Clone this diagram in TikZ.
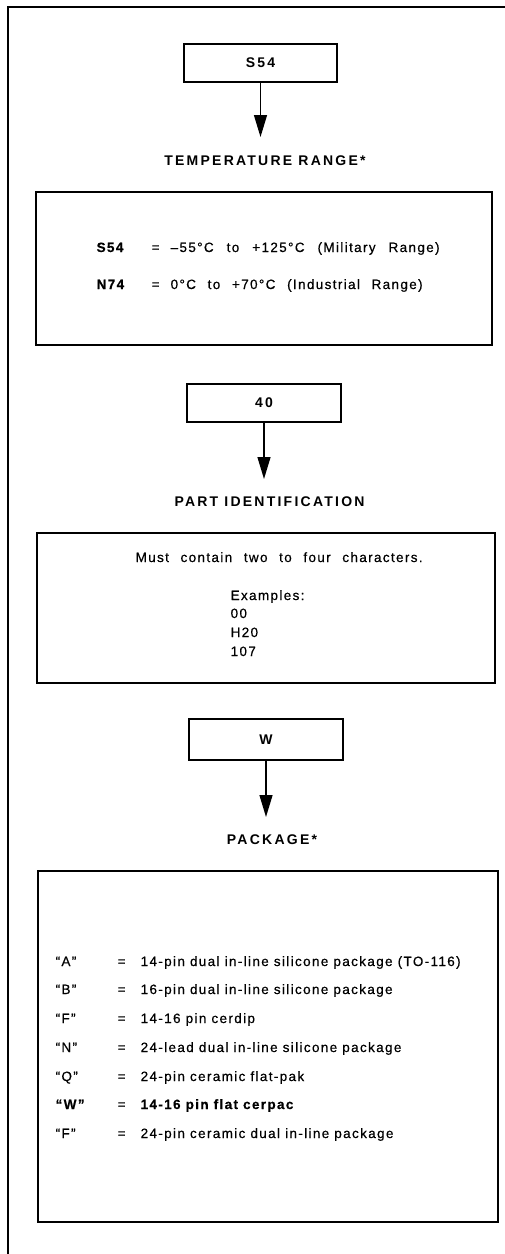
\documentclass[tikz,border=0pt]{standalone}
\usepackage{fontspec}
\setmainfont{Liberation Sans}[LetterSpace=10, FakeBold=0.5]
\newfontfamily\headfont{Liberation Sans}[LetterSpace=16]
\usepackage{tikz}
\usetikzlibrary{arrows.meta}
\newcommand{\spread}[2]{\makebox[#1][s]{#2}}

\begin{document}
\begin{tikzpicture}[x=1pt, y=-1pt, line width=1.3pt,
  font=\fontsize{13.5}{16}\selectfont,
  codebox/.style={draw, minimum width=154pt, minimum height=38pt, font=\fontsize{14}{16}\selectfont\headfont\bfseries},
  panel/.style={draw},
  head/.style={font=\fontsize{14}{16}\selectfont\headfont\bfseries, inner sep=0pt},
  row/.style={anchor=base west, inner sep=0pt},
  arr/.style={-{Triangle[length=22pt, width=13pt]}}]
  \useasboundingbox (0,0) rectangle (505,1254);
  % frame
  \draw (505,7) -- (8,7) -- (8,1254);
  % temperature range
  \node[codebox, minimum width=153pt] (s54) at (260.5,63) {S54};
  \coordinate (s54tip) at (s54.south |- 0,137);
  \draw[arr] (s54) -- (s54tip);
  \node[head] (temphead) at (265,161) {TEMPERATURE RANGE*};
  \node[panel, minimum width=456pt, minimum height=153pt] (tempbox) at (264,268.5) {};
  \foreach \y/\code/\desc/\w [count=\i] in {252/S54/{–55°C to +125°C (Military Range)}/269pt,
                                            289/N74/{0°C to +70°C (Industrial Range)}/252pt}{
    \node[row] (tempcode\i) at (96,\y) {\bfseries\code};
    \node[row] (tempeq\i) at (151,\y) {=};
    \node[row] (tempdesc\i) at (170,\y) {\spread{\w}{\desc}};
  }
  % part identification
  \node[codebox] (partno) at (264,403) {40};
  \coordinate (parttip) at (partno.south |- 0,479);
  \draw[arr] (partno) -- (parttip);
  \node[head] (parthead) at (269.5,502) {PART IDENTIFICATION};
  \node[panel, minimum width=458pt, minimum height=150pt] (partbox) at (266,608) {};
  \node[row] (partrule) at (135,562) {\spread{287pt}{Must contain two to four characters.}};
  \foreach \y/\t [count=\i] in {600/Examples:, 618/00, 637/H20, 656/107}
    \node[row] (partex\i) at (230,\y) {\t};
  % package
  \node[codebox, minimum height=41pt] (pkgno) at (266,739.5) {W};
  \coordinate (pkgtip) at (pkgno.south |- 0,817);
  \draw[arr] (pkgno) -- (pkgtip);
  \node[head] (pkghead) at (272,840) {PACKAGE*};
  \node[panel, minimum width=460pt, minimum height=351pt] (pkgbox) at (268,1046.5) {};
  \foreach \y/\code/\desc/\wt [count=\i] in {
      966/A/{14-pin dual in-line silicone package (TO-116)}/\mdseries,
      994/B/{16-pin dual in-line silicone package}/\mdseries,
      1023/F/{14-16 pin cerdip}/\mdseries,
      1052/N/{24-lead dual in-line silicone package}/\mdseries,
      1081/Q/{24-pin ceramic flat-pak}/\mdseries,
      1109/W/{14-16 pin flat cerpac}/\bfseries,
      1138/F/{24-pin ceramic dual in-line package}/\mdseries}{
    \node[row] (pkgcode\i) at (55,\y) {\wt “\code”};
    \node[row] (pkgeq\i) at (117,\y) {=};
    \node[row] (pkgdesc\i) at (140,\y) {\wt \desc};
  }
\end{tikzpicture}
\end{document}
